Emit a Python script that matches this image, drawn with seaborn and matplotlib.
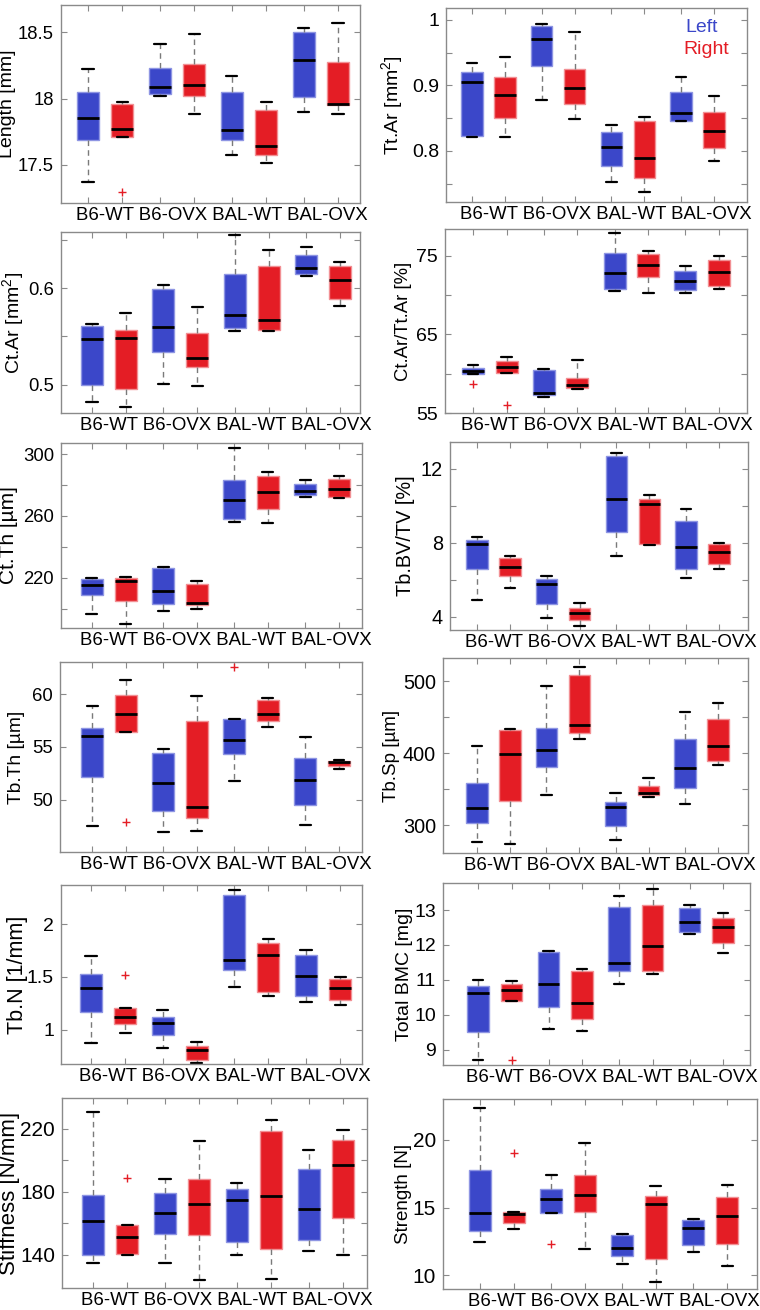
import numpy as np
import pandas as pd
import matplotlib
matplotlib.use("Agg")
import matplotlib.pyplot as plt
from matplotlib.transforms import offset_copy
import seaborn as sns

GROUPS = ["B6-WT", "B6-OVX", "BAL-WT", "BAL-OVX"]
SIDES = ["Left", "Right"]
BLUE = "#3b47c9"
RED = "#e41d25"
EDGE = {"Left": "#8e95e3", "Right": "#f29094"}

# five-number summaries per group: [low whisker, q1, median, q3, high whisker]
length_left = [[17.37, 17.69, 17.85, 18.05, 18.22], [18.02, 18.035, 18.09, 18.23, 18.41],
               [17.57, 17.69, 17.76, 18.05, 18.17], [17.90, 18.01, 18.29, 18.50, 18.53]]
length_right = [[17.71, 17.71, 17.77, 17.96, 17.97], [17.88, 18.02, 18.10, 18.26, 18.49],
                [17.51, 17.57, 17.64, 17.91, 17.97], [17.88, 17.95, 17.96, 18.275, 18.57]]
length_out = [("B6-WT", "Right", 17.29)]

ttar_left = [[0.821, 0.823, 0.905, 0.920, 0.934], [0.877, 0.930, 0.971, 0.990, 0.994],
             [0.753, 0.777, 0.806, 0.829, 0.840], [0.845, 0.846, 0.858, 0.890, 0.912]]
ttar_right = [[0.821, 0.850, 0.886, 0.913, 0.944], [0.848, 0.871, 0.896, 0.925, 0.982],
              [0.737, 0.759, 0.789, 0.846, 0.852], [0.785, 0.804, 0.830, 0.860, 0.884]]
ttar_out = []

ctar_left = [[0.482, 0.500, 0.547, 0.561, 0.563], [0.501, 0.534, 0.560, 0.599, 0.603],
             [0.555, 0.559, 0.572, 0.6145, 0.655], [0.612, 0.614, 0.621, 0.634, 0.642]]
ctar_right = [[0.477, 0.495, 0.548, 0.557, 0.574], [0.499, 0.518, 0.528, 0.553, 0.580],
              [0.555, 0.557, 0.567, 0.623, 0.639], [0.581, 0.589, 0.608, 0.623, 0.627]]
ctar_out = []

ratio_left = [[60.02, 60.02, 60.40, 60.74, 61.09], [57.04, 57.26, 57.55, 60.53, 60.57],
              [70.57, 70.79, 72.83, 75.34, 77.85], [70.32, 70.62, 71.77, 73.04, 73.68]]
ratio_right = [[60.10, 60.10, 60.83, 61.60, 62.15], [58.06, 58.23, 58.57, 59.51, 61.68],
               [70.32, 72.32, 73.85, 75.17, 75.60], [70.74, 71.09, 72.87, 74.45, 74.91]]
ratio_out = [("B6-WT", "Left", 58.66), ("B6-WT", "Right", 56.02)]

ctth_left = [[196.8, 209.2, 215.7, 219.4, 220.0], [198.5, 203.4, 211.4, 226.5, 227.3],
             [256.1, 258.1, 270.5, 283.0, 304.1], [272.3, 273.8, 276.3, 280.6, 283.4]]
ctth_right = [[190.3, 205.2, 217.8, 220.0, 220.4], [199.8, 202.4, 204.1, 216.1, 218.3],
              [255.5, 264.3, 275.7, 285.6, 288.4], [271.4, 272.0, 277.2, 283.9, 285.8]]
ctth_out = []

bvtv_left = [[4.88, 6.58, 7.91, 8.14, 8.34], [3.95, 4.67, 5.77, 6.05, 6.18],
             [7.30, 8.56, 10.36, 12.70, 12.88], [6.09, 6.61, 7.80, 9.19, 9.84]]
bvtv_right = [[5.53, 6.20, 6.67, 7.19, 7.28], [3.50, 3.82, 4.20, 4.45, 4.72],
              [7.86, 7.95, 10.11, 10.38, 10.59], [6.56, 6.85, 7.50, 7.91, 7.98]]
bvtv_out = []

tbth_left = [[47.50, 52.15, 56.01, 56.80, 58.89], [46.93, 48.96, 51.55, 54.43, 54.78],
             [51.77, 54.34, 55.70, 57.66, 57.66], [47.63, 49.53, 51.84, 53.99, 55.95]]
tbth_right = [[56.42, 56.42, 58.10, 59.97, 61.39], [47.03, 48.29, 49.30, 57.47, 59.81],
              [56.93, 57.47, 58.16, 59.46, 59.65], [52.88, 53.23, 53.54, 53.67, 53.77]]
tbth_out = [("B6-WT", "Right", 47.91), ("BAL-WT", "Left", 62.63)]

tbsp_left = [[276.9, 303.2, 323.6, 358.3, 409.7], [342.1, 381.0, 404.2, 435.2, 492.6],
             [279.2, 299.1, 325.0, 331.9, 344.4], [329.6, 352.3, 379.2, 419.9, 456.9]]
tbsp_right = [[274.5, 333.3, 399.5, 432.4, 432.9], [419.0, 427.8, 439.4, 507.9, 519.9],
              [339.8, 341.7, 344.9, 354.6, 365.3], [384.3, 389.4, 409.3, 447.7, 469.0]]
tbsp_out = []

tbn_left = [[0.870, 1.165, 1.392, 1.528, 1.699], [0.829, 0.946, 1.060, 1.123, 1.190],
            [1.402, 1.570, 1.661, 2.282, 2.329], [1.266, 1.320, 1.509, 1.706, 1.756]]
tbn_right = [[0.972, 1.051, 1.117, 1.203, 1.203], [0.687, 0.712, 0.804, 0.848, 0.883],
             [1.320, 1.358, 1.706, 1.820, 1.864], [1.237, 1.278, 1.392, 1.478, 1.497]]
tbn_out = [("B6-WT", "Right", 1.519)]

bmc_left = [[8.70, 9.51, 10.61, 10.81, 11.00], [9.58, 10.22, 10.87, 11.80, 11.84],
            [10.87, 11.26, 11.48, 13.10, 13.40], [12.32, 12.36, 12.67, 13.07, 13.15]]
bmc_right = [[10.40, 10.40, 10.70, 10.89, 10.96], [9.53, 9.87, 10.34, 11.26, 11.30],
             [11.17, 11.26, 11.96, 13.14, 13.61], [11.76, 12.05, 12.51, 12.76, 12.91]]
bmc_out = [("B6-WT", "Right", 8.69)]

stiff_left = [[134.6, 139.5, 161.5, 178.1, 230.7], [134.6, 153.0, 166.6, 179.2, 187.9],
              [139.9, 148.2, 174.7, 181.5, 185.7], [142.2, 149.2, 169.2, 194.4, 206.5]]
stiff_right = [[139.5, 140.1, 151.1, 159.0, 159.0], [123.6, 152.2, 171.9, 188.1, 212.3],
               [124.4, 143.5, 177.5, 218.8, 225.6], [139.5, 163.2, 196.8, 212.7, 219.5]]
stiff_out = [("B6-WT", "Right", 188.5)]

strength_left = [[12.47, 13.26, 14.61, 17.75, 22.32], [14.63, 14.63, 15.66, 16.38, 17.43],
                 [10.82, 11.46, 12.03, 12.96, 13.03], [11.76, 12.27, 13.50, 14.12, 14.19]]
strength_right = [[13.45, 13.89, 14.51, 14.68, 14.68], [11.98, 14.71, 15.93, 17.38, 19.74],
                  [9.50, 11.22, 15.25, 15.86, 16.60], [10.70, 12.35, 14.41, 15.79, 16.70]]
strength_out = [("B6-WT", "Right", 19.03), ("B6-OVX", "Left", 12.30)]

# (ylabel, left, right, outliers, ylim, yticks, tick labels)
PANELS = [
    ("Length [mm]", length_left, length_right, length_out, (17.21, 18.707),
     [17.5, 18, 18.5], ["17.5", "18", "18.5"]),
    ("Tt.Ar [mm$^2$]", ttar_left, ttar_right, ttar_out, (0.722, 1.018),
     [0.75, 0.8, 0.85, 0.9, 0.95, 1.0], ["", "0.8", "", "0.9", "", "1"]),
    ("Ct.Ar [mm$^2$]", ctar_left, ctar_right, ctar_out, (0.4706, 0.658),
     [0.5, 0.55, 0.6, 0.65], ["0.5", "", "0.6", ""]),
    ("Ct.Ar/Tt.Ar [%]", ratio_left, ratio_right, ratio_out, (55, 78.4),
     [55, 60, 65, 70, 75], ["55", "", "65", "", "75"]),
    ("Ct.Th [µm]", ctth_left, ctth_right, ctth_out, (187.7, 307.1),
     [200, 220, 240, 260, 280, 300], ["", "220", "", "260", "", "300"]),
    ("Tb.BV/TV [%]", bvtv_left, bvtv_right, bvtv_out, (3.28, 13.46),
     [4, 6, 8, 10, 12], ["4", "", "8", "", "12"]),
    ("Tb.Th [µm]", tbth_left, tbth_right, tbth_out, (45.03, 63.07),
     [50, 55, 60], ["50", "55", "60"]),
    ("Tb.Sp [µm]", tbsp_left, tbsp_right, tbsp_out, (261.6, 532),
     [300, 350, 400, 450, 500], ["300", "", "400", "", "500"]),
    ("Tb.N [1/mm]", tbn_left, tbn_right, tbn_out, (0.674, 2.373),
     [1, 1.5, 2], ["1", "1.5", "2"]),
    ("Total BMC [mg]", bmc_left, bmc_right, bmc_out, (8.56, 13.775),
     [9, 10, 11, 12, 13], ["9", "10", "11", "12", "13"]),
    ("Stiffness [N/mm]", stiff_left, stiff_right, stiff_out, (118.7, 239.6),
     [140, 160, 180, 200, 220], ["140", "", "180", "", "220"]),
    ("Strength [N]", strength_left, strength_right, strength_out, (9.0, 23.0),
     [10, 15, 20], ["10", "15", "20"]),
]

# layout per panel: axes rect px (l, t, r, b), xlim, ylabel x (axes frac), ylabel size, tick size
LAYOUT = [
    ((61, 5, 360, 203), (-0.613, 3.543), -0.150, 14.0, 13.3),
    ((446, 8, 747, 202), (-0.611, 3.711), -0.136, 14.0, 14.0),
    ((61, 232, 360, 413), (-0.672, 3.518), -0.118, 14.0, 13.3),
    ((445, 229, 747, 413), (-0.633, 3.633), -0.109, 13.3, 14.0),
    ((61, 443, 362, 628), (-0.673, 3.561), -0.143, 15.0, 13.3),
    ((450, 442, 748, 630), (-0.625, 3.654), -0.117, 14.3, 14.3),
    ((60, 662, 362, 852), (-0.688, 3.561), -0.116, 13.8, 13.3),
    ((443, 658, 748, 853), (-0.727, 3.670), -0.141, 13.5, 14.3),
    ((61, 885, 362, 1064), (-0.656, 3.544), -0.110, 15.5, 14.0),
    ((443, 883, 750, 1065), (-0.734, 3.620), -0.098, 14.0, 14.0),
    ((62, 1098, 367, 1288), (-0.669, 3.571), -0.138, 16.0, 15.0),
    ((443, 1099, 757, 1289), (-0.756, 3.658), -0.098, 13.5, 15.0),
]

W, H = 760, 1310
DODGE_WIDTH = 0.95
XFS = 13.4


def to_long(left, right):
    rows = []
    for side, stats in (("Left", left), ("Right", right)):
        for grp, five in zip(GROUPS, stats):
            for v in five:
                rows.append({"Group": grp, "Side": side, "Value": v})
    return pd.DataFrame(rows)


sns.set_theme(style="white")
plt.rcParams["font.family"] = ["Liberation Sans", "DejaVu Sans"]
plt.rcParams["mathtext.fontset"] = "custom"
plt.rcParams["mathtext.rm"] = "Liberation Sans"
plt.rcParams["mathtext.it"] = "Liberation Sans"
plt.rcParams["text.color"] = "black"
plt.rcParams["axes.labelcolor"] = "black"

fig = plt.figure(figsize=(W / 100, H / 100), dpi=100)
renderer = fig.canvas.get_renderer()
probe = fig.text(0, 0, GROUPS[0], fontsize=XFS)
half_first = probe.get_window_extent(renderer).width / 2
probe.remove()

offset = DODGE_WIDTH / 4
box_pos = [i + s * offset for i in range(len(GROUPS)) for s in (-1, 1)]

for (ylabel, left, right, outl, ylim, yticks, ylabels), ((l, t, r, b), xlim, ylx, yfs, tfs) in zip(PANELS, LAYOUT):
    ax = fig.add_axes([l / W, 1 - b / H, (r - l) / W, (b - t) / H])
    df = to_long(left, right)
    sns.boxplot(data=df, x="Group", y="Value", hue="Side", order=GROUPS, hue_order=SIDES,
                palette={"Left": BLUE, "Right": RED}, saturation=1, width=DODGE_WIDTH, gap=0.35,
                whis=(0, 100), showfliers=False, legend=False, ax=ax,
                medianprops=dict(color="black", linewidth=2),
                whiskerprops=dict(color="#7a7a7a", linewidth=1, linestyle=(0, (4, 3))),
                capprops=dict(color="black", linewidth=1.6),
                boxprops=dict(linewidth=1))
    # lighter outline on the filled boxes
    for patch in ax.patches:
        fc = matplotlib.colors.to_hex(patch.get_facecolor())
        patch.set_edgecolor(EDGE["Left"] if fc.lower() == BLUE else EDGE["Right"])
        patch.set_linewidth(1)

    if outl:
        odf = pd.DataFrame(outl, columns=["Group", "Side", "Value"])
        odf["x"] = [GROUPS.index(g) + (-offset if s == "Left" else offset)
                    for g, s in zip(odf["Group"], odf["Side"])]
        sns.scatterplot(data=odf, x="x", y="Value", marker="+", color=RED, s=30,
                        linewidth=1, ax=ax, legend=False)

    ax.set_xlim(*xlim)
    ax.set_ylim(*ylim)
    ax.set_xticks([])
    ax.set_xticks(box_pos, minor=True)
    ax.set_xticklabels([], minor=True)
    ax.set_yticks(yticks)
    ax.set_yticklabels(ylabels, fontsize=tfs)
    ax.tick_params(axis="x", which="minor", direction="in", length=4, top=True,
                   bottom=True, color="#8a8a8a", width=0.8)
    ax.tick_params(axis="y", direction="in", length=4, left=True, right=True,
                   color="#8a8a8a", labelcolor="black", width=0.8, pad=5)
    ax.set_xlabel("")
    ax.set_ylabel(ylabel, fontsize=yfs, color="black")
    ax.yaxis.set_label_coords(ylx, 0.5)
    for sp in ax.spines.values():
        sp.set_color("#8a8a8a")
        sp.set_linewidth(1)

    # group names written as one line, first name centred on its group
    trans = offset_copy(ax.get_xaxis_transform(), fig=fig, x=-half_first, y=-4, units="dots")
    ax.text(0, 0, " ".join(GROUPS), transform=trans, ha="left", va="top",
            fontsize=XFS, color="black")

    if ylabel.startswith("Tt.Ar"):
        ax.text(0.794, 0.902, "Left", color=BLUE, fontsize=14, transform=ax.transAxes,
                ha="left", va="center")
        ax.text(0.79, 0.784, "Right", color=RED, fontsize=14, transform=ax.transAxes,
                ha="left", va="center")

fig.savefig("out.png", dpi=100)
